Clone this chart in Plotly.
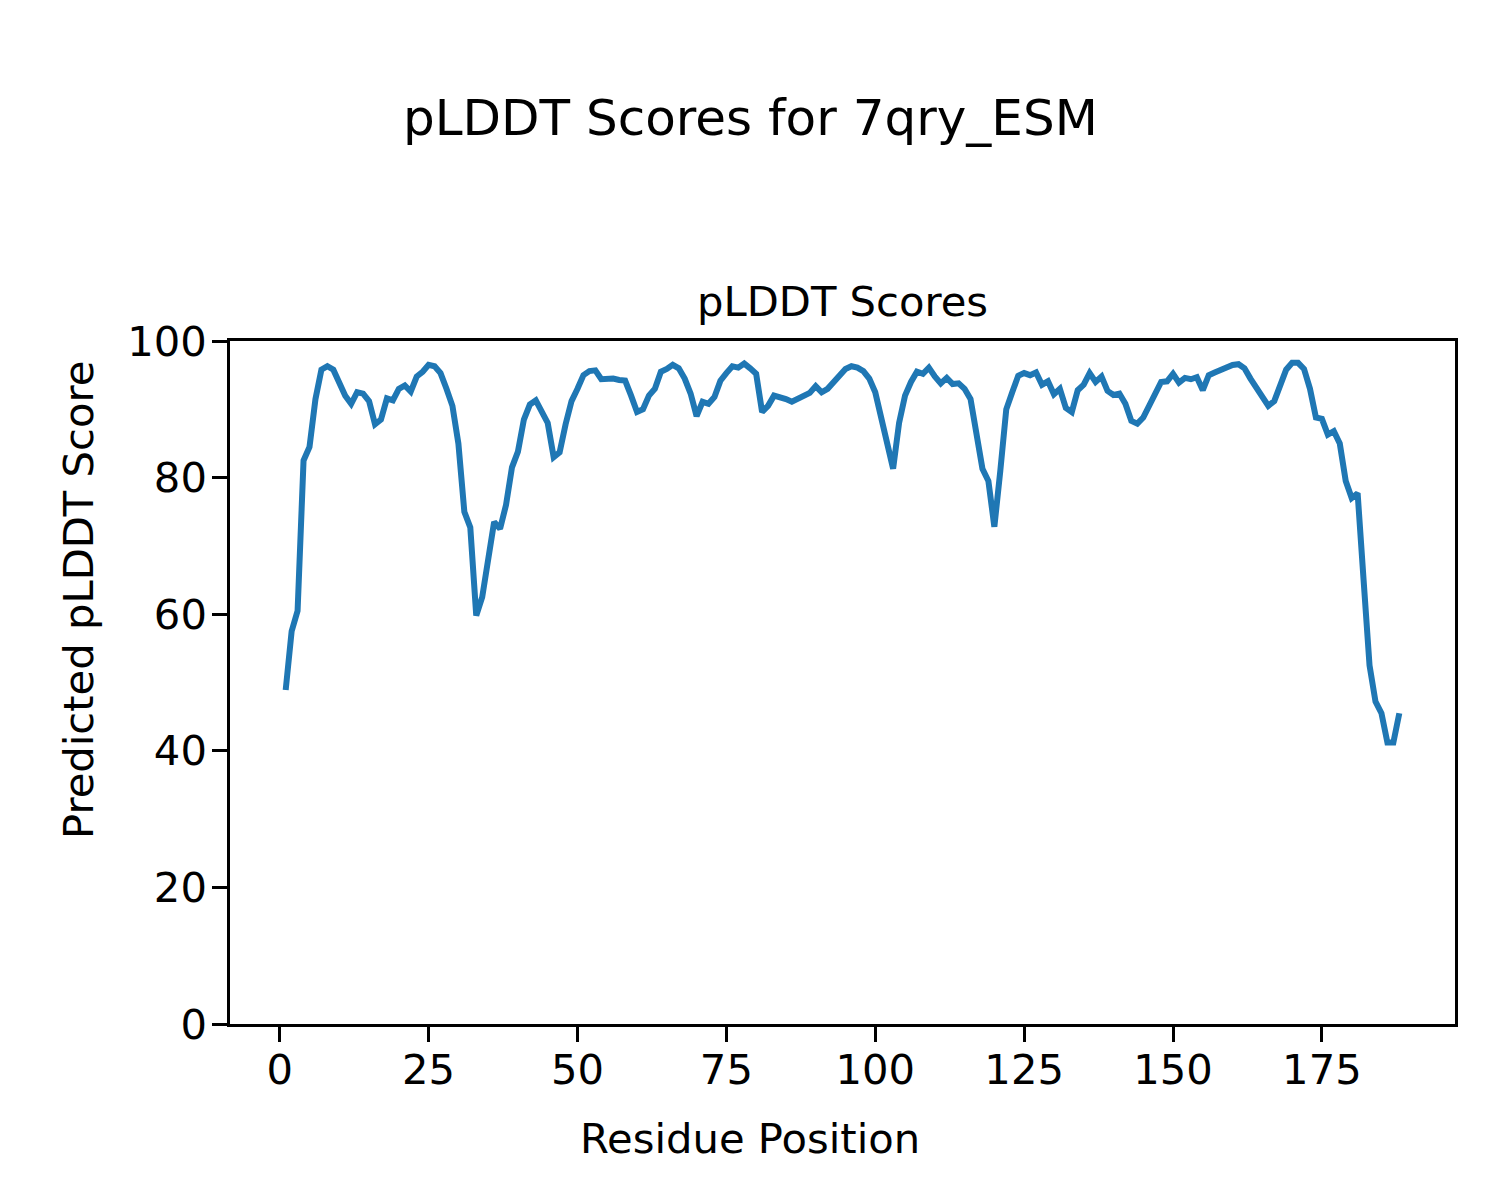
import plotly.graph_objects as go

residues = list(range(1, 189))
plddt = [
    48.9, 57.5, 60.5, 82.5, 84.5, 91.5, 95.8, 96.3, 95.8, 94.0,
    92.0, 90.8, 92.5, 92.3, 91.2, 87.8, 88.5, 91.6, 91.3, 93.0,
    93.5, 92.6, 94.8, 95.5, 96.5, 96.3, 95.3, 93.0, 90.5, 85.0,
    75.0, 72.7, 59.8, 62.5, 67.5, 73.5, 72.5, 76.0, 81.5, 83.8,
    88.5, 90.7, 91.3, 89.5, 88.0, 83.0, 83.7, 87.8, 91.2, 93.0,
    95.0, 95.6, 95.7, 94.4, 94.5, 94.5, 94.3, 94.2, 92.0, 89.6,
    90.0, 92.0, 93.0, 95.5, 95.9, 96.5, 96.0, 94.5, 92.3, 89.0,
    91.1, 90.8, 91.8, 94.2, 95.3, 96.3, 96.1, 96.7, 96.0, 95.2,
    89.6, 90.5, 92.0, 91.8, 91.5, 91.1, 91.5, 91.8, 92.4, 93.4,
    92.5, 93.0, 94.0, 95.2, 95.9, 96.3, 96.1, 95.6, 94.5, 92.5,
    88.5, 85.5, 81.3, 88.0, 92.0, 94.0, 95.5, 95.2, 96.1, 94.8,
    93.8, 94.6, 93.7, 93.8, 93.0, 91.5, 86.5, 81.3, 79.5, 72.8,
    81.0, 90.0, 92.5, 94.9, 95.3, 95.0, 95.4, 93.6, 94.1, 92.2,
    93.0, 90.2, 89.6, 92.8, 93.6, 95.3, 94.0, 94.8, 92.7, 92.1,
    92.3, 90.8, 88.3, 87.9, 88.8, 90.6, 92.3, 94.0, 94.1, 95.2,
    93.9, 94.6, 94.4, 94.7, 92.8, 95.0, 95.4, 95.8, 96.0, 96.5,
    96.6, 96.0, 94.5, 93.1, 91.7, 90.5, 91.2, 93.5, 95.8, 96.8,
    96.8, 95.9, 93.0, 88.8, 88.6, 86.3, 86.8, 85.0, 79.5, 77.0,
    77.7, 65.0, 52.5, 47.2, 45.5, 41.2, 41.2, 45.5,
]
x_ticks = [0, 25, 50, 75, 100, 125, 150, 175]
y_ticks = [0, 20, 40, 60, 80, 100]

suptitle = "pLDDT Scores for 7qry_ESM"
axes_title = "pLDDT Scores"
x_label = "Residue Position"
y_label = "Predicted pLDDT Score"

FONT = "DejaVu Sans"

fig = go.Figure()
fig.add_trace(go.Scatter(
    x=residues, y=plddt, mode="lines",
    line=dict(color="#1f77b4", width=6.0),
    showlegend=False,
))

n_min, n_max = min(residues), max(residues)
pad = 0.05 * (n_max - n_min)

axis_common = dict(
    showline=True, linecolor="black", linewidth=3.3, mirror=True,
    ticks="outside", ticklen=14.6, tickwidth=3.3, tickcolor="black",
    showgrid=False, zeroline=False,
    tickfont=dict(family=FONT, size=41.7, color="black"),
)

# page body has an 8px margin; compensate so the figure lands where the reference is
W, H = 1492, 1192
L, T = 222, 333
PW, PH = 1225, 683
# reference pixel coordinates of the plot area (for placing figure-level labels)
AX_L, AX_B = 230, 1024


def px_x(px):
    return (px - AX_L) / PW


def px_y(py):
    return (AX_B - py) / PH


fig.update_layout(
    width=W, height=H,
    paper_bgcolor="white", plot_bgcolor="white",
    margin=dict(l=L, r=W - L - PW, t=T, b=H - T - PH, pad=0),
    font=dict(family=FONT, color="black"),
    xaxis=dict(
        range=[n_min - pad, n_max + pad],
        tickvals=x_ticks, ticktext=[str(v) for v in x_ticks],
        ticklabelstandoff=-8,
        **axis_common,
    ),
    yaxis=dict(
        range=[0, 100],
        tickvals=y_ticks, ticktext=[str(v) for v in y_ticks],
        ticklabelstandoff=-3,
        **axis_common,
    ),
    annotations=[
        dict(text=suptitle, xref="paper", yref="paper", x=px_x(750),
             y=px_y(118), xanchor="center", yanchor="middle",
             showarrow=False, font=dict(family=FONT, size=50, color="black")),
        dict(text=axes_title, xref="paper", yref="paper", x=0.5,
             y=px_y(302), xanchor="center", yanchor="middle",
             showarrow=False, font=dict(family=FONT, size=41.7, color="black")),
        dict(text=x_label, xref="paper", yref="paper", x=px_x(750),
             y=px_y(1138), xanchor="center", yanchor="middle",
             showarrow=False, font=dict(family=FONT, size=41.7, color="black")),
        dict(text=y_label, xref="paper", yref="paper", x=px_x(78),
             y=px_y(600), xanchor="center", yanchor="middle", textangle=-90,
             showarrow=False, font=dict(family=FONT, size=41.7, color="black")),
    ],
)

fig.write_html("out.html")
